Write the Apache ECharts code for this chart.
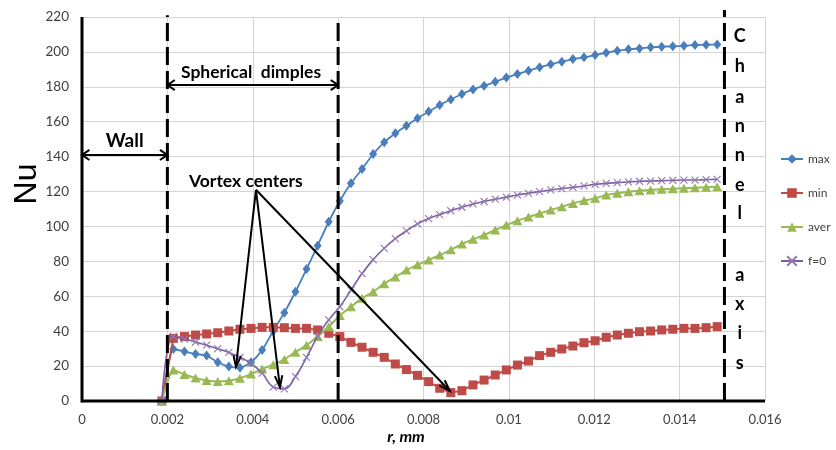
<!DOCTYPE html>
<html><head><meta charset="utf-8">
<script src="https://cdn.jsdelivr.net/npm/echarts@6/dist/echarts.min.js"></script>
<style>html,body{margin:0;padding:0;background:#fff}#c{width:836px;height:450px}</style>
</head><body><div id="c"></div>
<script>
// ---- data ----
const rValues = [0.00187, 0.00214, 0.00240, 0.00266, 0.00292, 0.00318, 0.00344, 0.00370, 0.00396, 0.00422, 0.00448,
  0.00474, 0.00500, 0.00526, 0.00552, 0.00578, 0.00604, 0.00630, 0.00656, 0.00682, 0.00708,
  0.00734, 0.00760, 0.00786, 0.00812, 0.00838, 0.00864, 0.00890, 0.00916, 0.00942, 0.00968,
  0.00994, 0.01020, 0.01046, 0.01072, 0.01098, 0.01124, 0.01150, 0.01176, 0.01202, 0.01228,
  0.01254, 0.01280, 0.01306, 0.01332, 0.01358, 0.01384, 0.01410, 0.01436, 0.01462, 0.01488];
const maxValues = [0, 29.8, 28.3, 26.9, 26, 22.2, 19.7, 19.1, 22.2, 29.2, 40.1, 50.6, 62.6, 75.6, 89, 102.7,
  114.6, 124.7, 132.9, 141.5, 148.2, 153.4, 157.7, 162, 165.8, 169.6, 172.8, 175.9, 178.5, 180.6, 182.9,
  185.3, 187.3, 189.2, 191.2, 192.9, 194.4, 195.9, 196.9, 198.2, 199.5, 200.7, 201.5, 202, 202.6, 203,
  203.2, 203.5, 203.9, 204.1, 204.3];
const minValues = [0, 35.9, 36.9, 37.8, 38.4, 39.1, 40.1, 41.1, 41.6, 42.2, 42.2, 42, 41.6, 41.6, 40.7, 38.8,
  36.9, 33.6, 30.8, 27.9, 25, 21.2, 18, 14.7, 11.1, 7.3, 4.8, 5.9, 9.2, 12, 14.9,
  17.8, 20.6, 22.9, 26, 27.9, 29.8, 31.5, 33.4, 34.5, 36.5, 37.8, 38.8, 39.7, 40.1, 40.7,
  41.1, 41.6, 41.6, 42, 42.6];
const averValues = [0, 17.8, 15.2, 13.2, 11.8, 11.2, 11.6, 13, 15.5, 18.3, 20.8, 23.8, 28, 32, 37, 42.5,
  49, 54, 58.8, 62.6, 67.2, 71, 75, 78, 80.8, 83.6, 86.6, 90, 92.6, 95.1, 98,
  100.8, 103.3, 105.4, 107.5, 109.4, 111.3, 113.2, 114.8, 116.1, 118, 119, 119.9, 120.5, 120.9, 121.3,
  121.6, 121.9, 122.2, 122.4, 122.8];
const f0Values = [0, 37, 35.5, 33.8, 32, 30, 27.8, 25, 21.5, 16, 8, 7, 14, 25, 37, 46.5,
  54, 63.5, 73, 81, 87.5, 93, 97.5, 101.5, 104.5, 106.8, 109, 111, 112.9, 114.3, 115.6,
  116.8, 118, 119, 120, 120.9, 121.7, 122.4, 123.2, 124.1, 124.7, 125.1, 125.5, 125.9, 126, 126.2,
  126.4, 126.6, 126.6, 126.8, 127];
const seriesNames = ['max', 'min', 'aver', 'f=0'];
const xTicks = [0, 0.002, 0.004, 0.006, 0.008, 0.01, 0.012, 0.014, 0.016];
const yTicks = [0, 20, 40, 60, 80, 100, 120, 140, 160, 180, 200, 220];

// ---- annotations (data coordinates) ----
const dashedLinesX = [0.002, 0.006, 0.01505];
const channelLetters = ['C', 'h', 'a', 'n', 'n', 'e', 'l', 'a', 'x', 'i', 's'];
const channelLetterY = [209, 192, 174, 157.5, 141, 123.7, 107.7, 72.2, 55.6, 39, 21.8];

const pairs = v => rValues.map((x, i) => [x, v[i]]);
const colors = ['#4a7ebb', '#be4b48', '#98b954', '#7d60a0'];
const xPath = 'path://M0,0L10,10M10,0L0,10';

const chart = echarts.init(document.getElementById('c'));
const baseFont = 'Lato, "Open Sans", sans-serif';
const option = {
  animation: false,
  grid: { left: 82, right: 71, top: 17, bottom: 49, containLabel: false },
  xAxis: {
    type: 'value', min: xTicks[0], max: xTicks[xTicks.length - 1], interval: 0.002,
    axisLine: { show: false },
    axisTick: { show: false },
    axisLabel: { color: '#404040', fontSize: 13, fontFamily: baseFont, margin: 12,
      formatter: v => String(+v.toFixed(3)) },
    splitLine: { show: true, lineStyle: { color: '#d4d4d4', width: 1 } }
  },
  yAxis: {
    type: 'value', min: yTicks[0], max: yTicks[yTicks.length - 1], interval: 20,
    axisLine: { show: false },
    axisTick: { show: false },
    axisLabel: { color: '#404040', fontSize: 13.5, fontFamily: baseFont, margin: 13 },
    splitLine: { show: true, lineStyle: { color: '#d4d4d4', width: 1 } }
  },
  legend: {
    orient: 'vertical', left: 780, top: 153, padding: 0, itemGap: 22, itemWidth: 22, itemHeight: 12,
    textStyle: { color: '#404040', fontSize: 12, fontFamily: baseFont },
    data: seriesNames
  },
  series: [
    { name: seriesNames[0], type: 'line', data: pairs(maxValues), color: colors[0],
      symbol: 'diamond', symbolSize: [8, 10], lineStyle: { width: 1.8 }, smooth: 0.2, z: 2 },
    { name: seriesNames[1], type: 'line', data: pairs(minValues), color: colors[1],
      symbol: 'rect', symbolSize: 9, lineStyle: { width: 2 }, z: 3 },
    { name: seriesNames[2], type: 'line', data: pairs(averValues), color: colors[2],
      symbol: 'triangle', symbolSize: [10, 9], lineStyle: { width: 2 }, smooth: 0.2, z: 4 },
    { name: seriesNames[3], type: 'line', data: pairs(f0Values), color: colors[3],
      symbol: xPath, symbolSize: 7, smooth: 0.4,
      itemStyle: { color: colors[3], borderColor: '#9177b4', borderWidth: 1.1 },
      lineStyle: { width: 1.6 }, z: 5 }
  ]
};
chart.setOption(option);

// ---- overlay annotations ----
const P = (x, y) => chart.convertToPixel({ gridIndex: 0 }, [x, y]);
const g = [];
const blk = '#000';
function line(a, b, w, dash) {
  g.push({ type: 'line', z: 50, shape: { x1: a[0], y1: a[1], x2: b[0], y2: b[1] },
    style: { stroke: blk, lineWidth: w, lineDash: dash || null } });
}
function head(tip, from, len, ang, w) {
  const dx = from[0] - tip[0], dy = from[1] - tip[1];
  const L = Math.hypot(dx, dy), ux = dx / L, uy = dy / L;
  const c = Math.cos(ang), s = Math.sin(ang);
  const p1 = [tip[0] + len * (ux * c - uy * s), tip[1] + len * (ux * s + uy * c)];
  const p2 = [tip[0] + len * (ux * c + uy * s), tip[1] + len * (-ux * s + uy * c)];
  g.push({ type: 'polyline', z: 50, shape: { points: [p1, tip, p2] },
    style: { stroke: blk, lineWidth: w, fill: null } });
}
function text(t, p, font, extra) {
  g.push(Object.assign({ type: 'text', z: 60, x: p[0], y: p[1],
    style: { text: t, font: font, fill: blk, align: 'center', verticalAlign: 'middle' } }, extra || {}));
}
const origin = P(0, 0), topRight = P(0.016, 220);
// axes (thick black)
line([origin[0], origin[1]], [topRight[0], origin[1]], 3);
line([origin[0], origin[1] + 1.5], [origin[0], topRight[1]], 3);
// dashed verticals
const dashTop = [221, 220, 224];
dashedLinesX.forEach((x, i) => line(P(x, 0), P(x, dashTop[i]), 3, [18, 6]));
// Wall arrow
const wa = P(0, 141), wb = P(0.002, 141);
line(wa, wb, 2);
head(wa, wb, 9, 0.6, 2); head(wb, wa, 9, 0.6, 2);
text('Wall', P(0.001, 149), 'bold 19px Lato, sans-serif');
// Spherical dimples arrow
const sa = P(0.002, 181), sb = P(0.006, 181);
line(sa, sb, 2);
head(sa, sb, 9, 0.6, 2); head(sb, sa, 9, 0.6, 2);
text('Spherical  dimples', P(0.00396, 188.5), 'bold 17.5px Lato, sans-serif');
// Vortex centers
text('Vortex centers', P(0.00384, 126), 'bold 17.5px Lato, sans-serif');
const vs = P(0.004075, 121);
[[0.003607, 19.5], [0.004637, 8.0], [0.008618, 5.7]].forEach(t => {
  const tp = P(t[0], t[1]);
  line(vs, tp, 2);
  head(tp, vs, 12, 0.32, 2);
});
// Channel axis letters
channelLetters.forEach((ch, i) => text(ch, P(0.01541, channelLetterY[i]), 'bold 18px Lato, sans-serif'));
// axis names
text('Nu', [27, 184], '32px "Liberation Sans", Arial, sans-serif', { rotation: Math.PI / 2 });
text('r, mm', [406, 437], 'italic bold 16px Lato, sans-serif');
chart.setOption({ graphic: g });
</script></body></html>
